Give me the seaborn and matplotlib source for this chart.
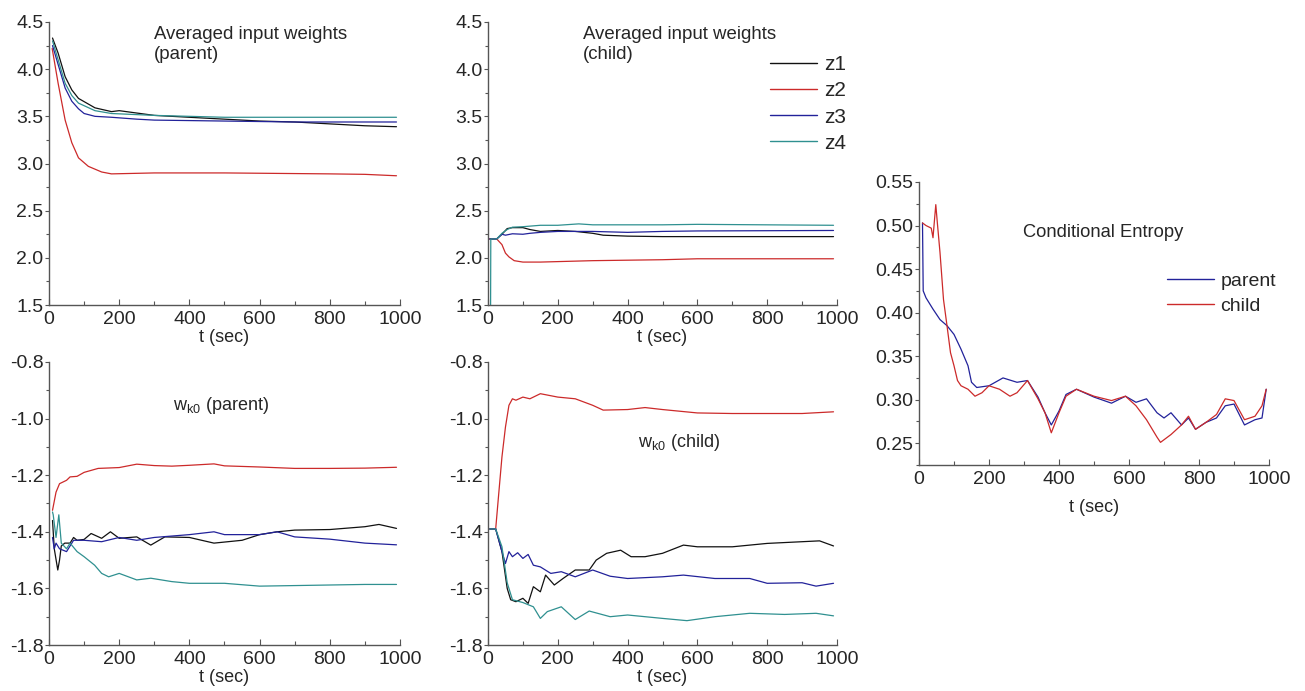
import numpy as np
import pandas as pd
import seaborn as sns
import matplotlib
matplotlib.use('Agg')
import matplotlib.pyplot as plt
from matplotlib.ticker import MultipleLocator, FormatStrFormatter

sns.set_style('ticks')
plt.rcParams['font.family'] = ['Liberation Sans', 'DejaVu Sans']
plt.rcParams['axes.unicode_minus'] = False
plt.rcParams['mathtext.fontset'] = 'custom'
plt.rcParams['mathtext.rm'] = 'Liberation Sans'
plt.rcParams['mathtext.it'] = 'Liberation Sans'

# ---- averaged input weights, parent ----
wp_t_z1 = [10, 26, 46, 65, 84, 131, 178, 200, 300, 400, 500, 600, 700, 800, 900, 990]
wp_z1 = [4.33, 4.17, 3.92, 3.78, 3.69, 3.59, 3.55, 3.56, 3.51, 3.49, 3.47, 3.45, 3.44, 3.42, 3.40, 3.39]
wp_t_z2 = [9, 26, 46, 65, 84, 112, 150, 178, 300, 500, 800, 900, 990]
wp_z2 = [4.22, 3.85, 3.46, 3.22, 3.06, 2.97, 2.91, 2.89, 2.90, 2.90, 2.89, 2.885, 2.87]
wp_t_z3 = [10, 26, 46, 65, 84, 100, 131, 178, 250, 300, 400, 600, 700, 800, 990]
wp_z3 = [4.25, 4.05, 3.80, 3.66, 3.58, 3.53, 3.50, 3.49, 3.47, 3.46, 3.455, 3.445, 3.44, 3.44, 3.44]
wp_t_z4 = [10, 26, 46, 65, 84, 131, 178, 300, 400, 500, 700, 990]
wp_z4 = [4.30, 4.10, 3.85, 3.72, 3.64, 3.56, 3.53, 3.51, 3.50, 3.49, 3.49, 3.49]

# ---- averaged input weights, child ----
wc_t_z1 = [5, 25, 40, 55, 70, 100, 120, 150, 200, 250, 300, 330, 400, 500, 990]
wc_z1 = [2.2, 2.2, 2.25, 2.31, 2.32, 2.32, 2.30, 2.28, 2.29, 2.28, 2.26, 2.24, 2.23, 2.225, 2.225]
wc_t_z2 = [5, 25, 40, 50, 60, 75, 100, 150, 200, 300, 400, 500, 600, 990]
wc_z2 = [2.2, 2.2, 2.14, 2.05, 2.01, 1.97, 1.955, 1.955, 1.96, 1.97, 1.975, 1.98, 1.99, 1.99]
wc_t_z3 = [5, 25, 40, 50, 70, 100, 120, 150, 200, 300, 400, 500, 600, 990]
wc_z3 = [2.2, 2.2, 2.25, 2.24, 2.255, 2.25, 2.26, 2.27, 2.28, 2.28, 2.27, 2.28, 2.285, 2.29]
wc_t_z4 = [7, 8, 25, 40, 55, 70, 100, 150, 200, 260, 300, 400, 500, 600, 990]
wc_z4 = [1.0, 2.2, 2.2, 2.26, 2.30, 2.325, 2.33, 2.345, 2.345, 2.36, 2.35, 2.35, 2.35, 2.355, 2.345]

# ---- w_k0, parent ----
kp_t_z1 = [10, 15, 25, 30, 35, 45, 60, 70, 80, 100, 120, 150, 175, 200, 250, 290, 330,
           400, 470, 550, 600, 650, 700, 800, 900, 940, 990]
kp_z1 = [-1.36, -1.46, -1.535, -1.50, -1.45, -1.44, -1.44, -1.42, -1.43, -1.427, -1.406,
         -1.423, -1.40, -1.423, -1.418, -1.447, -1.418, -1.42, -1.44, -1.43, -1.41, -1.40,
         -1.394, -1.392, -1.382, -1.374, -1.388]
kp_t_z2 = [10, 20, 30, 50, 60, 80, 100, 140, 200, 250, 300, 350, 400, 470, 500, 600,
           700, 800, 900, 990]
kp_z2 = [-1.324, -1.26, -1.23, -1.218, -1.206, -1.204, -1.19, -1.176, -1.173, -1.161,
         -1.166, -1.168, -1.165, -1.16, -1.167, -1.171, -1.176, -1.176, -1.175, -1.172]
kp_t_z3 = [10, 15, 20, 30, 50, 70, 100, 150, 200, 250, 300, 350, 400, 470, 500, 600,
           650, 700, 800, 900, 990]
kp_z3 = [-1.42, -1.46, -1.44, -1.46, -1.47, -1.43, -1.43, -1.435, -1.42, -1.43, -1.42,
         -1.415, -1.41, -1.40, -1.41, -1.41, -1.40, -1.418, -1.426, -1.44, -1.446]
kp_t_z4 = [10, 12, 20, 28, 35, 50, 60, 80, 100, 130, 150, 170, 200, 250, 290, 350, 400,
           500, 600, 700, 800, 900, 990]
kp_z4 = [-1.33, -1.34, -1.42, -1.34, -1.44, -1.46, -1.44, -1.47, -1.488, -1.518, -1.547,
         -1.559, -1.547, -1.57, -1.564, -1.576, -1.582, -1.582, -1.592, -1.59, -1.588,
         -1.586, -1.586]

# ---- w_k0, child ----
kc_t_z1 = [5, 22, 40, 55, 65, 80, 100, 115, 130, 150, 165, 190, 215, 250, 290, 310, 340,
           380, 410, 450, 500, 560, 600, 700, 800, 900, 950, 990]
kc_z1 = [-1.39, -1.39, -1.47, -1.60, -1.64, -1.647, -1.635, -1.653, -1.594, -1.612,
         -1.553, -1.588, -1.565, -1.535, -1.535, -1.50, -1.476, -1.465, -1.488, -1.488,
         -1.476, -1.447, -1.453, -1.453, -1.441, -1.435, -1.432, -1.45]
kc_t_z2 = [5, 22, 30, 40, 50, 60, 70, 80, 100, 120, 150, 200, 250, 300, 330, 400, 450,
           500, 600, 700, 800, 900, 990]
kc_z2 = [-1.39, -1.39, -1.276, -1.135, -1.03, -0.953, -0.93, -0.935, -0.924, -0.93,
         -0.912, -0.924, -0.93, -0.953, -0.97, -0.968, -0.961, -0.968, -0.98, -0.982,
         -0.982, -0.982, -0.976]
kc_t_z3 = [5, 22, 40, 50, 60, 70, 85, 100, 115, 130, 150, 180, 210, 250, 300, 350, 400,
           500, 560, 650, 750, 800, 900, 940, 990]
kc_z3 = [-1.39, -1.39, -1.47, -1.512, -1.47, -1.488, -1.474, -1.494, -1.48, -1.518,
         -1.524, -1.547, -1.541, -1.559, -1.535, -1.557, -1.565, -1.559, -1.553, -1.565,
         -1.565, -1.582, -1.58, -1.592, -1.582]
kc_t_z4 = [5, 22, 40, 55, 70, 100, 130, 150, 170, 210, 250, 290, 350, 400, 500, 570, 650,
           750, 850, 940, 990]
kc_z4 = [-1.39, -1.39, -1.453, -1.58, -1.64, -1.65, -1.665, -1.706, -1.682, -1.665,
         -1.71, -1.68, -1.70, -1.694, -1.706, -1.714, -1.70, -1.688, -1.692, -1.688, -1.697]

# ---- conditional entropy ----
ce_t_parent = [10, 12, 20, 40, 60, 80, 100, 120, 140, 150, 165, 200, 240, 280, 310, 340,
               360, 378, 400, 420, 450, 500, 550, 590, 620, 650, 680, 700, 720, 750, 770,
               790, 820, 850, 875, 900, 930, 960, 980, 992]
ce_parent = [0.503, 0.425, 0.417, 0.404, 0.392, 0.385, 0.375, 0.358, 0.339, 0.320, 0.314,
             0.316, 0.325, 0.320, 0.322, 0.303, 0.285, 0.271, 0.287, 0.306, 0.312, 0.303,
             0.296, 0.304, 0.297, 0.301, 0.285, 0.279, 0.285, 0.271, 0.279, 0.266, 0.274,
             0.279, 0.293, 0.295, 0.271, 0.277, 0.279, 0.312]
ce_t_child = [10, 20, 35, 40, 45, 48, 52, 60, 70, 80, 90, 100, 110, 120, 140, 160, 180,
              200, 230, 260, 280, 310, 340, 360, 378, 400, 420, 450, 500, 550, 590, 620,
              650, 680, 690, 720, 750, 770, 790, 820, 850, 875, 900, 930, 960, 980, 992]
ce_child = [0.503, 0.50, 0.497, 0.486, 0.51, 0.524, 0.505, 0.469, 0.415, 0.385, 0.354,
            0.339, 0.322, 0.316, 0.312, 0.304, 0.308, 0.316, 0.312, 0.304, 0.308, 0.322,
            0.301, 0.285, 0.262, 0.285, 0.304, 0.312, 0.304, 0.299, 0.304, 0.293, 0.277,
            0.257, 0.251, 0.26, 0.271, 0.281, 0.266, 0.274, 0.283, 0.301, 0.299, 0.277,
            0.281, 0.293, 0.312]

z_colors = {'z1': '#111111', 'z2': '#cc2a2a', 'z3': '#22229a', 'z4': '#2f9090'}
ce_colors = {'parent': '#22229a', 'child': '#cc2a2a'}


def long_df(pairs):
    frames = []
    for name, t, v in pairs:
        frames.append(pd.DataFrame({'t': t, 'v': v, 'series': name}))
    return pd.concat(frames, ignore_index=True)


wp_df = long_df([('z1', wp_t_z1, wp_z1), ('z2', wp_t_z2, wp_z2),
                  ('z3', wp_t_z3, wp_z3), ('z4', wp_t_z4, wp_z4)])
wc_df = long_df([('z1', wc_t_z1, wc_z1), ('z2', wc_t_z2, wc_z2),
                  ('z3', wc_t_z3, wc_z3), ('z4', wc_t_z4, wc_z4)])
kp_df = long_df([('z1', kp_t_z1, kp_z1), ('z2', kp_t_z2, kp_z2),
                  ('z3', kp_t_z3, kp_z3), ('z4', kp_t_z4, kp_z4)])
kc_df = long_df([('z1', kc_t_z1, kc_z1), ('z2', kc_t_z2, kc_z2),
                  ('z3', kc_t_z3, kc_z3), ('z4', kc_t_z4, kc_z4)])
ce_df = long_df([('parent', ce_t_parent, ce_parent), ('child', ce_t_child, ce_child)])

fig = plt.figure(figsize=(13.05, 6.91), dpi=100)
W, H = 1305, 691


def px_axes(x0, y0, x1, y1):
    return fig.add_axes([x0 / W, 1 - y1 / H, (x1 - x0) / W, (y1 - y0) / H])


ax_wp = px_axes(49, 22, 400, 305)
ax_wc = px_axes(488, 22, 837, 305)
ax_kp = px_axes(49, 362, 400, 645)
ax_kc = px_axes(488, 362, 837, 645)
ax_ce = px_axes(919, 182, 1269, 465)

lw = 0.9
for ax, df in [(ax_wp, wp_df), (ax_wc, wc_df), (ax_kp, kp_df), (ax_kc, kc_df)]:
    sns.lineplot(data=df, x='t', y='v', hue='series', palette=z_colors, estimator=None,
                 sort=False, linewidth=lw, ax=ax, legend=(ax is ax_wc))
sns.lineplot(data=ce_df, x='t', y='v', hue='series', palette=ce_colors, estimator=None,
             sort=False, linewidth=lw, ax=ax_ce, legend=True)

for ax in [ax_wp, ax_wc]:
    ax.set_ylim(1.5, 4.5)
    ax.yaxis.set_major_locator(MultipleLocator(0.5))
    ax.yaxis.set_minor_locator(MultipleLocator(0.25))
    ax.yaxis.set_major_formatter(FormatStrFormatter('%.1f'))
for ax in [ax_kp, ax_kc]:
    ax.set_ylim(-1.8, -0.8)
    ax.yaxis.set_major_locator(MultipleLocator(0.2))
    ax.yaxis.set_minor_locator(MultipleLocator(0.1))
    ax.yaxis.set_major_formatter(FormatStrFormatter('%.1f'))
ax_ce.set_ylim(0.225, 0.55)
ax_ce.set_yticks([0.25, 0.30, 0.35, 0.40, 0.45, 0.50, 0.55])
ax_ce.yaxis.set_minor_locator(MultipleLocator(0.025))
ax_ce.yaxis.set_major_formatter(FormatStrFormatter('%.2f'))

for ax in [ax_wp, ax_wc, ax_kp, ax_kc, ax_ce]:
    ax.set_xlim(0, 1000)
    ax.xaxis.set_major_locator(MultipleLocator(200))
    ax.xaxis.set_minor_locator(MultipleLocator(100))
    ax.set_ylabel('')
    ax.set_xlabel('t (sec)', fontsize=13, labelpad=1)
    sns.despine(ax=ax)
    for s in ['left', 'bottom']:
        ax.spines[s].set_color('#555555')
        ax.spines[s].set_linewidth(1.0)
    ax.tick_params(axis='y', which='major', direction='out', length=3, width=0.8,
                   color='#555555', labelsize=14, pad=1)
    ax.tick_params(axis='y', which='minor', direction='out', length=2, width=0.8,
                   color='#555555')
    ax.tick_params(axis='x', which='major', direction='in', length=4, width=0.8,
                   color='#555555', labelsize=14, pad=4)
    ax.tick_params(axis='x', which='minor', direction='in', length=3, width=0.8,
                   color='#555555')
ax_ce.set_xlabel('t (sec)', fontsize=13, labelpad=8)

ax_wp.text(0.30, 0.985, 'Averaged input weights\n(parent)', transform=ax_wp.transAxes,
           ha='left', va='top', fontsize=13.4, linespacing=1.25)
ax_wc.text(0.271, 0.985, 'Averaged input weights\n(child)', transform=ax_wc.transAxes,
           ha='left', va='top', fontsize=13.4, linespacing=1.25)
ax_kp.text(0.353, 0.848, r'w$_{\mathregular{k0}}$ (parent)', transform=ax_kp.transAxes,
           ha='left', va='center', fontsize=13)
ax_kc.text(0.43, 0.714, r'w$_{\mathregular{k0}}$ (child)', transform=ax_kc.transAxes,
           ha='left', va='center', fontsize=13)
ax_ce.text(0.297, 0.823, 'Conditional Entropy', transform=ax_ce.transAxes,
           ha='left', va='center', fontsize=13.2)

leg = ax_wc.legend(loc='upper right', bbox_to_anchor=(1.025, 0.882), frameon=False,
                   fontsize=15, handlelength=2.26, handletextpad=0.3, labelspacing=0.34,
                   borderpad=0, borderaxespad=0)
for line in leg.get_lines():
    line.set_linewidth(1.0)
leg = ax_ce.legend(loc='upper right', bbox_to_anchor=(1.02, 0.682), frameon=False,
                   fontsize=14, handlelength=2.4, handletextpad=0.35, labelspacing=0.38,
                   borderpad=0, borderaxespad=0)
for line in leg.get_lines():
    line.set_linewidth(1.0)

fig.savefig('out.png', dpi=100)
